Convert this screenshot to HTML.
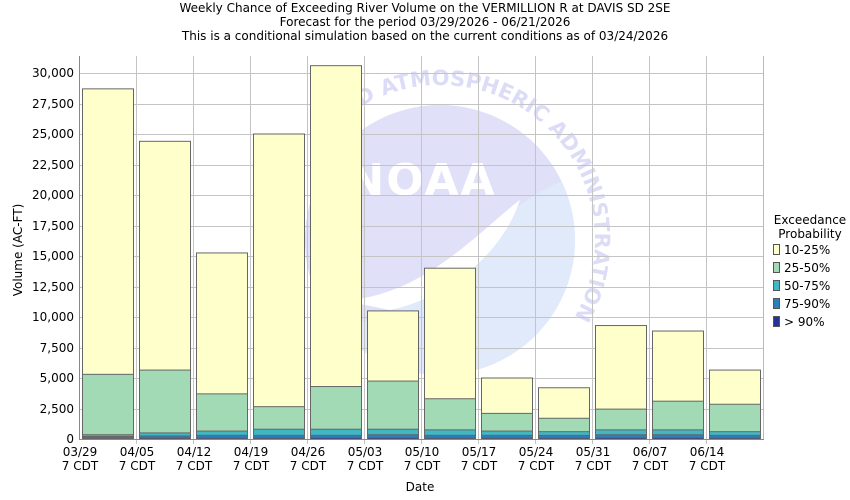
<!DOCTYPE html>
<html><head><meta charset="utf-8"><style>
body{margin:0;background:#fff}
svg{display:block;font-family:"DejaVu Sans","Liberation Sans",sans-serif}
</style></head><body>
<svg id="s" width="850" height="500" xmlns="http://www.w3.org/2000/svg">
<defs>
<clipPath id="cc"><circle cx="440" cy="240" r="135"/></clipPath>
<path id="ring" d="M 285 240 A 155 155 0 1 1 595 240 A 155 155 0 1 1 285 240"/>
</defs>
<rect width="850" height="500" fill="#fff"/>
<g font-size="12" text-anchor="middle" fill="#000">
<text x="425" y="12">Weekly Chance of Exceeding River Volume on the VERMILLION R at DAVIS SD 2SE</text>
<text x="425" y="26">Forecast for the period 03/29/2026 - 06/21/2026</text>
<text x="425" y="40">This is a conditional simulation based on the current conditions as of 03/24/2026</text>
</g>
<!-- watermark -->
<g clip-path="url(#cc)">
<rect x="300" y="100" width="280" height="280" fill="#e0e0f9"/>
<path d="M 300 330 C 380 330 420 300 470 250 C 520 200 550 180 600 170 L 600 400 L 300 400 Z" fill="#e1eafb"/>
<path d="M 340 300 C 420 300 480 230 520 200 C 500 260 440 300 390 310 Z" fill="#fff"/>
</g>
<text x="422" y="195" font-size="44" font-weight="bold" text-anchor="middle" fill="#fff" letter-spacing="2">NOAA</text>
<text font-size="21" font-weight="bold" fill="#dcdcf6"><textPath href="#ring" startOffset="13%">AND ATMOSPHERIC ADMINISTRATION</textPath></text>
<g id="grid" stroke="#c4c4c4" stroke-width="1"></g>
<g id="bars" stroke="#666" stroke-width="1"></g>
<line x1="79.5" y1="56" x2="79.5" y2="439" stroke="#888"/>
<line x1="763.5" y1="56" x2="763.5" y2="439" stroke="#bbb"/>
<line x1="79" y1="439.5" x2="764" y2="439.5" stroke="#888"/>
<g font-size="12" text-anchor="end" fill="#000">
<text x="74" y="443">0</text><text x="74" y="413">2,500</text><text x="74" y="382">5,000</text>
<text x="74" y="352">7,500</text><text x="74" y="321">10,000</text><text x="74" y="291">12,500</text>
<text x="74" y="260">15,000</text><text x="74" y="230">17,500</text><text x="74" y="199">20,000</text>
<text x="74" y="169">22,500</text><text x="74" y="138">25,000</text><text x="74" y="108">27,500</text>
<text x="74" y="77">30,000</text>
</g>
<g font-size="12" text-anchor="middle" fill="#000">
<text x="80" y="456">03/29</text><text x="80" y="470">7 CDT</text>
<text x="137" y="456">04/05</text><text x="137" y="470">7 CDT</text>
<text x="194" y="456">04/12</text><text x="194" y="470">7 CDT</text>
<text x="251" y="456">04/19</text><text x="251" y="470">7 CDT</text>
<text x="308" y="456">04/26</text><text x="308" y="470">7 CDT</text>
<text x="365" y="456">05/03</text><text x="365" y="470">7 CDT</text>
<text x="422" y="456">05/10</text><text x="422" y="470">7 CDT</text>
<text x="479" y="456">05/17</text><text x="479" y="470">7 CDT</text>
<text x="536" y="456">05/24</text><text x="536" y="470">7 CDT</text>
<text x="593" y="456">05/31</text><text x="593" y="470">7 CDT</text>
<text x="650" y="456">06/07</text><text x="650" y="470">7 CDT</text>
<text x="707" y="456">06/14</text><text x="707" y="470">7 CDT</text>
<text x="420" y="491">Date</text>
<text transform="translate(22,250) rotate(-90)">Volume (AC-FT)</text>
</g>
<g font-size="12" fill="#000">
<text x="810" y="224" text-anchor="middle">Exceedance</text>
<text x="810" y="238" text-anchor="middle">Probability</text>
<rect x="773.5" y="244.5" width="6" height="10" fill="#ffffcc" stroke="#555"/><text x="784" y="254">10-25%</text>
<rect x="773.5" y="262.5" width="6" height="10" fill="#a1dab4" stroke="#555"/><text x="784" y="272">25-50%</text>
<rect x="773.5" y="280.5" width="6" height="10" fill="#41b6c4" stroke="#555"/><text x="784" y="290">50-75%</text>
<rect x="773.5" y="298.5" width="6" height="10" fill="#2c7fb8" stroke="#555"/><text x="784" y="308">75-90%</text>
<rect x="773.5" y="316.5" width="6" height="10" fill="#253494" stroke="#555"/><text x="784" y="326">&gt; 90%</text>
</g>
<script>
(function(){
var ns="http://www.w3.org/2000/svg";
function Y(v){return 439-v*366/30000;}
var g=document.getElementById('grid');
for(var i=1;i<=12;i++){var l=document.createElementNS(ns,'line');var y=Math.round(Y(i*2500))+.5;l.setAttribute('x1',80);l.setAttribute('x2',763);l.setAttribute('y1',y);l.setAttribute('y2',y);g.appendChild(l);}
for(var i=1;i<12;i++){var l=document.createElementNS(ns,'line');var x=79.5+57*i;l.setAttribute('x1',x);l.setAttribute('x2',x);l.setAttribute('y1',56);l.setAttribute('y2',444);g.appendChild(l);}
var d=[[28700,5300,350,200,80],[24400,5650,500,250,100],[15250,3700,650,300,100],[25000,2650,800,300,100],[30600,4300,800,300,120],[10500,4750,800,350,120],[14000,3300,750,300,100],[5000,2100,650,300,100],[4200,1700,600,300,100],[9300,2450,750,350,120],[8850,3100,750,350,120],[5650,2850,600,300,100]];
var c=["#ffffcc","#a1dab4","#41b6c4","#2c7fb8","#253494"];
var b=document.getElementById('bars');
d.forEach(function(v,i){var x=82.5+57*i;for(var k=0;k<5;k++){var top=Y(v[k]);var r=document.createElementNS(ns,'rect');r.setAttribute('x',x);r.setAttribute('y',top);r.setAttribute('width',51);r.setAttribute('height',439-top);r.setAttribute('fill',c[k]);b.appendChild(r);}});
})();
</script>
</svg>
</body></html>
